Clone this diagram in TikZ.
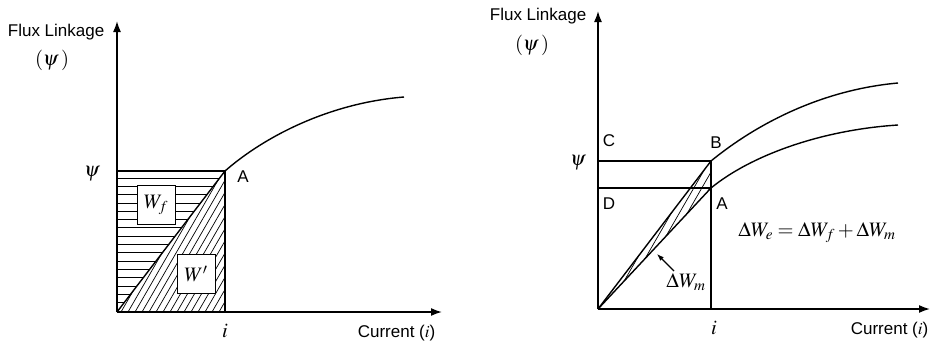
\documentclass[tikz,border=0pt]{standalone}
\usepackage{mathptmx}
\usepackage[no-math]{fontspec}
\setmainfont{Liberation Sans}
\usetikzlibrary{arrows.meta}
\begin{document}
\begin{tikzpicture}[x=1pt,y=-1pt,line width=1.4pt,
  axis/.style={line width=1.6pt,-{Latex[length=11pt,width=8pt]}},
  lbl/.style={font=\fontsize{17}{19}\selectfont,inner sep=0pt},
  mlbl/.style={font=\fontsize{20.5}{22}\selectfont,inner sep=0pt},
  hatch/.style={line width=0.7pt},
  wbox/.style={draw,fill=white,line width=0.6pt,minimum width=38pt,minimum height=39pt,inner sep=0pt,font=\fontsize{20.5}{22}\selectfont}]
\useasboundingbox (0,0) rectangle (930,346);
% ---------- left plot ----------
\coordinate (O1) at (117,312);
\coordinate (A1) at (225,171);
\coordinate (P1) at (117,171);
\coordinate (I1) at (225,312);
\coordinate (Y1) at (117,21);
\coordinate (X1) at (442,312);
\coordinate (E1) at (404,97);
\begin{scope}
  \clip (O1)--(P1)--(A1)--cycle;
  \foreach \y in {178,186.3,...,312} \draw[hatch] (100,\y)--(240,\y);
\end{scope}
\begin{scope}
  \clip (O1)--(A1)--(I1)--cycle;
  \foreach \x in {30,37,...,240} \draw[hatch] (\x,312)--(\x+90,156);
\end{scope}
\node[wbox] (Wf) at (156,204.5) {$W_f$};
\node[wbox] (Wp) at (196,274) {$W'$};
\draw (P1)--(A1)--(I1);
\draw (O1)--(A1);
\draw (A1) .. controls (265,136) and (330,103) .. (E1);
\draw[axis] (O1)--(Y1);
\draw[axis] (O1)--(X1);
\node[lbl,anchor=east] (fl1) at (105,32) {Flux Linkage};
\node[mlbl] (psip1) at (52,60) {$(\psi\,)$};
\node[mlbl] (psi1) at (92,174) {$\psi$};
\node[lbl] (Al1) at (243,177) {A};
\node[mlbl] (i1) at (225,331) {$i$};
\node[lbl,anchor=east] (cur1) at (436,333) {Current ($i$)};
% ---------- right plot ----------
\coordinate (O2) at (598,309);
\coordinate (B2) at (711,161);
\coordinate (A2) at (711,188);
\coordinate (C2) at (598,161);
\coordinate (D2) at (598,188);
\coordinate (I2) at (711,309);
\coordinate (Y2) at (598,11);
\coordinate (X2) at (930,309);
\coordinate (EU) at (898,83);
\coordinate (EL) at (898,125);
\begin{scope}
  \clip (O2)--(B2)--(A2)--cycle;
  \foreach \x in {560,568,...,720} \draw[hatch] (\x,309)--(\x+90,153);
\end{scope}
\draw (C2)--(B2);
\draw (D2)--(A2);
\draw (B2)--(I2);
\draw (O2)--(B2);
\draw (O2)--(A2);
\draw (B2) .. controls (755,125) and (820,90) .. (EU);
\draw (A2) .. controls (750,156) and (820,130) .. (EL);
\draw[axis] (O2)--(Y2);
\draw[axis] (O2)--(X2);
\node[lbl,anchor=east] (fl2) at (587,16) {Flux Linkage};
\node[mlbl] (psip2) at (532,45) {$(\psi\,)$};
\node[mlbl] (psi2) at (578,163) {$\psi$};
\node[lbl] (Cl) at (609,141) {C};
\node[lbl] (Bl) at (716,143) {B};
\node[lbl] (Dl) at (609,204) {D};
\node[lbl] (Al2) at (722,204) {A};
\node[mlbl] (i2) at (714,328) {$i$};
\node[lbl,anchor=east] (cur2) at (929,330) {Current ($i$)};
\node[mlbl] (eq) at (817,233) {$\Delta W_e=\Delta W_f+\Delta W_m$};
\node[mlbl] (dwm) at (686,282) {$\Delta W_m$};
\coordinate (arS) at (674,271);
\coordinate (arE) at (657,254);
\draw[line width=1.1pt,-{Latex[length=7pt,width=5pt]}] (arS)--(arE);
\end{tikzpicture}
\end{document}
